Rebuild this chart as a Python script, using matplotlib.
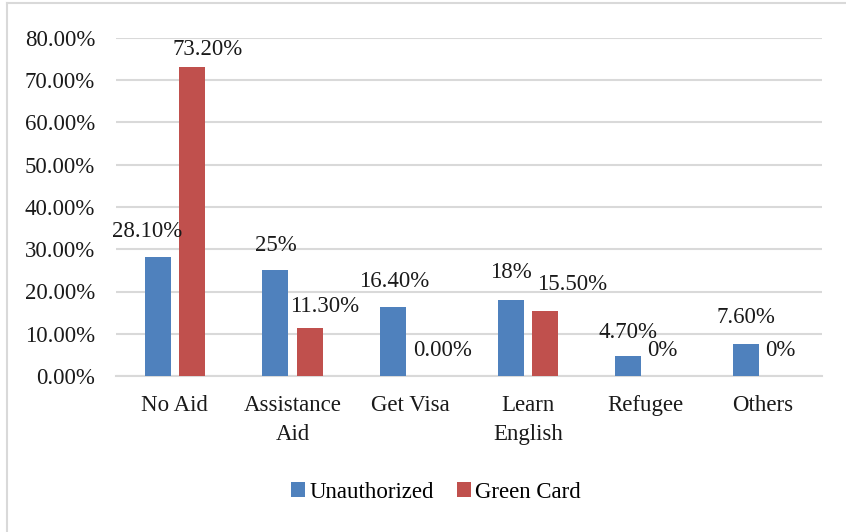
import matplotlib.pyplot as plt
import numpy as np
from matplotlib.lines import Line2D

categories = ["No Aid", "Assistance\nAid", "Get Visa", "Learn\nEnglish", "Refugee", "Others"]
unauthorized = [28.1, 25.0, 16.4, 18.0, 4.7, 7.6]
green_card = [73.2, 11.3, 0.0, 15.5, 0.0, 0.0]
unauth_labels = ["28.10%", "25%", "16.40%", "18%", "4.70%", "7.60%"]
green_labels = ["73.20%", "11.30%", "0.00%", "15.50%", "0%", "0%"]

# label nudges in pixels (dx, dy) from top of each bar, like the hand-placed excel labels
unauth_offsets = [(-11, 26), (0, 25), (1, 25), (0, 27), (0, 24), (0, 26)]
green_offsets = [(16, 17), (15, 22), (15, 26), (27, 26), (0, 26), (0, 26)]

plt.rcParams['font.family'] = ['Liberation Serif', 'DejaVu Serif']

blue = '#4F81BD'
red = '#C0504D'
grid_c = '#D9D9D9'
fs = 16.5

fig = plt.figure(figsize=(8.46, 5.32), dpi=100)
ax = fig.add_axes([116/846, 1-376/532, 706/846, 338/532])

x = np.arange(len(categories))
w = 0.22
off = 0.145
b1 = ax.bar(x - off, unauthorized, w, color=blue, label='Unauthorized', zorder=3)
b2 = ax.bar(x + off, green_card, w, color=red, label='Green Card', zorder=3)

for i in range(len(categories)):
    dx, dy = unauth_offsets[i]
    ax.annotate(unauth_labels[i], (x[i] - off, unauthorized[i]),
                xytext=(dx*0.72, dy*0.72), textcoords='offset points',
                ha='center', va='center', fontsize=fs, color='#1a1a1a')
    dx, dy = green_offsets[i]
    ax.annotate(green_labels[i], (x[i] + off, green_card[i]),
                xytext=(dx*0.72, dy*0.72), textcoords='offset points',
                ha='center', va='center', fontsize=fs, color='#1a1a1a')

ax.set_xlim(-0.5, 5.5)
ax.set_ylim(0, 80)
ax.set_yticks(np.arange(0, 81, 10))
ax.set_yticklabels(['%.2f%%' % v for v in np.arange(0, 81, 10)])
ax.set_xticks(x)
ax.set_xticklabels(categories, linespacing=1.45)
ax.tick_params(axis='both', length=0, labelsize=fs, labelcolor='#1a1a1a')
ax.tick_params(axis='y', pad=15)
ax.tick_params(axis='x', pad=14)
ax.yaxis.grid(True, color=grid_c, linewidth=1.5, zorder=0)
for s in ['top', 'right', 'left']:
    ax.spines[s].set_visible(False)
ax.spines['bottom'].set_color(grid_c)
ax.spines['bottom'].set_linewidth(1.5)

fig.legend(handles=[b1, b2], loc='center', bbox_to_anchor=(436/846, 1-492/532),
           ncol=2, frameon=False, fontsize=fs, handlelength=0.6, handleheight=0.6,
           handletextpad=0.2, columnspacing=1.0)

# chart border
fig.add_artist(Line2D([7/846, 1], [1-3/532, 1-3/532], color=grid_c, lw=1.5))
fig.add_artist(Line2D([7/846, 7/846], [0, 1-3/532], color=grid_c, lw=1.5))

fig.savefig('out.png', dpi=100)
